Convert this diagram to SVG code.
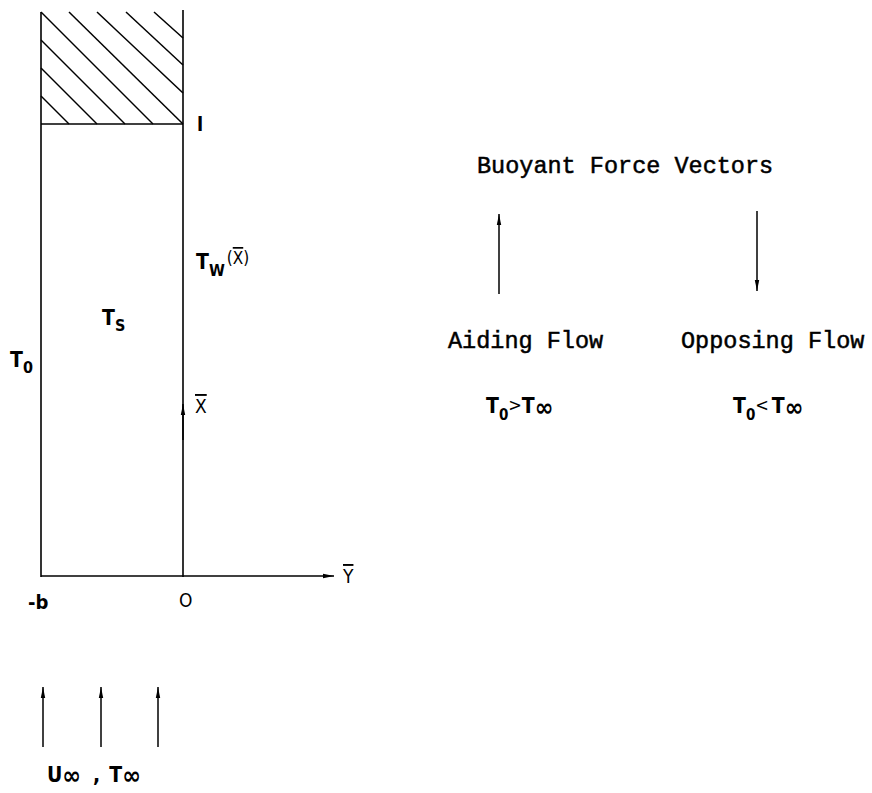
<svg xmlns="http://www.w3.org/2000/svg" width="872" height="793" viewBox="0 0 872 793">
<style>
.ln{stroke:#000;stroke-width:1.6;fill:none}
.hl{stroke:#000;stroke-width:1.5;fill:none}
.ar{stroke:#000;stroke-width:1.5;fill:none;marker-end:url(#ah)}
.m{font-family:"DejaVu Sans Condensed","DejaVu Sans",sans-serif;font-weight:bold;fill:#000}
.n{font-weight:normal}
.ol{text-decoration:overline}
.inf{font-size:25px}
.tw{font-family:"Liberation Mono","DejaVu Sans Mono",monospace;font-size:23.5px;fill:#000;stroke:#000;stroke-width:0.5}
</style>
<defs>
<marker id="ah" markerWidth="12" markerHeight="6" refX="11" refY="3" orient="auto" markerUnits="userSpaceOnUse">
<path d="M0,0.8 L11,3 L0,5.2 Z" fill="#000"/>
</marker>
</defs>
<rect width="872" height="793" fill="#fff"/>
<g id="channel">
<line class="ln" x1="41" y1="12" x2="41" y2="577"/>
<line class="ln" x1="183" y1="10" x2="183" y2="577"/>
<line class="ln" x1="41" y1="124" x2="183" y2="124"/>
</g>
<g id="hatch">
<line class="hl" x1="154" y1="12" x2="183" y2="38"/>
<line class="hl" x1="126" y1="12" x2="183" y2="65"/>
<line class="hl" x1="97" y1="12" x2="183" y2="93"/>
<line class="hl" x1="69" y1="12" x2="183" y2="124"/>
<line class="hl" x1="41" y1="12" x2="153" y2="124"/>
<line class="hl" x1="41" y1="40" x2="125" y2="124"/>
<line class="hl" x1="41" y1="68" x2="97" y2="124"/>
<line class="hl" x1="41" y1="96" x2="69" y2="124"/>
</g>
<g id="connectors">
<line class="ar" x1="41" y1="576" x2="334" y2="576"/>
<line class="ar" x1="183" y1="440" x2="183" y2="404"/>
<line class="ar" x1="43" y1="747" x2="43" y2="687"/>
<line class="ar" x1="101" y1="747" x2="101" y2="687"/>
<line class="ar" x1="158" y1="747" x2="158" y2="687"/>
<line class="ar" x1="499" y1="294" x2="499" y2="214"/>
<line class="ar" x1="757" y1="211" x2="757" y2="291"/>
</g>
<g id="labels-left">
<text class="m" x="197" y="131" font-size="20">l</text>
<text class="m" x="196" y="269" font-size="21">T<tspan font-size="16" dy="7">W</tspan><tspan class="n" font-size="17" dx="2" dy="-12">(<tspan class="ol">X</tspan>)</tspan></text>
<text class="m" x="102" y="325" font-size="21">T<tspan font-size="16" dy="6">S</tspan></text>
<text class="m" x="10" y="367" font-size="21">T<tspan font-size="16" dy="6">0</tspan></text>
<text class="m n ol" x="195" y="413" font-size="19">X</text>
<text class="m" x="28" y="609" font-size="20">-b</text>
<text class="m n" x="179" y="607" font-size="19">O</text>
<text class="m n ol" x="343" y="583" font-size="19">Y</text>
<text class="m" x="47" y="782" font-size="21">U<tspan class="inf" dy="2">∞</tspan><tspan dx="12" dy="-2">,</tspan><tspan dx="9">T</tspan><tspan class="inf" dy="2">∞</tspan></text>
</g>
<g id="labels-right">
<text class="tw" x="477" y="173">Buoyant Force Vectors</text>
<text class="tw" x="448" y="348">Aiding Flow</text>
<text class="tw" x="681" y="348">Opposing Flow</text>
<text class="m" x="486" y="413" font-size="21">T<tspan font-size="15" dy="7">0</tspan><tspan class="n" font-size="18" dy="-9">&gt;</tspan><tspan dy="2">T</tspan><tspan class="inf" dy="3">∞</tspan></text>
<text class="m" x="733" y="413" font-size="21">T<tspan font-size="15" dy="7">0</tspan><tspan class="n" font-size="18" dy="-9">&lt;</tspan><tspan dx="3" dy="2">T</tspan><tspan class="inf" dy="3">∞</tspan></text>
</g>
</svg>
